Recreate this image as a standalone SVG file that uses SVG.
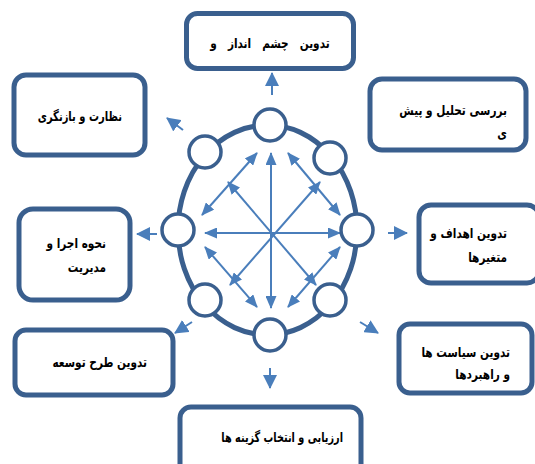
<svg xmlns="http://www.w3.org/2000/svg" width="535" height="464" viewBox="0 0 535 464">
<defs>
<style>
.box{fill:#fff;stroke:#3A5F8E;stroke-width:5}
.ring{fill:none;stroke:#3A5F8E;stroke-width:5}
.dot{fill:#fff;stroke:#3A5F8E;stroke-width:3.5}
.ln{stroke:#4A7EBB;stroke-width:2;fill:none}
.inner{marker-start:url(#ah);marker-end:url(#ah)}
.outer{marker-end:url(#oh)}
.t{font-family:"DejaVu Sans",sans-serif;font-weight:bold;font-size:13.5px;fill:#000;white-space:pre}
</style>
<marker id="ah" viewBox="0 0 13 11" refX="12" refY="5.5" markerWidth="13" markerHeight="11" markerUnits="userSpaceOnUse" orient="auto-start-reverse">
<path d="M0,0 L13,5.5 L0,11 z" fill="#4A7EBB"/>
</marker>
<marker id="oh" viewBox="0 0 14 14" refX="13" refY="7" markerWidth="14" markerHeight="14" markerUnits="userSpaceOnUse" orient="auto">
<path d="M0,0 L14,7 L0,14 z" fill="#4A7EBB"/>
</marker>
</defs>
<rect width="535" height="464" fill="#fff"/>

<g id="hub">
<ellipse class="ring" cx="267.5" cy="230" rx="89.5" ry="105"/>
</g>

<g id="connectors">
<line class="ln inner" x1="271" y1="153" x2="271" y2="308"/>
<line class="ln inner" x1="205" y1="233" x2="340" y2="233"/>
<line class="ln inner" x1="228" y1="182" x2="316" y2="285"/>
<line class="ln inner" x1="320" y1="182" x2="230" y2="285"/>
<line class="ln inner" x1="202" y1="215" x2="257" y2="153"/>
<line class="ln inner" x1="288" y1="153" x2="340" y2="215"/>
<line class="ln inner" x1="205" y1="247" x2="257" y2="307"/>
<line class="ln inner" x1="288" y1="307" x2="340" y2="247"/>
<line class="ln outer" x1="272" y1="95" x2="272" y2="73"/>
<line class="ln outer" x1="183" y1="130" x2="167" y2="118"/>
<line class="ln outer" x1="388" y1="233" x2="407" y2="233"/>
<line class="ln outer" x1="157" y1="234" x2="137" y2="234"/>
<line class="ln outer" x1="192" y1="322" x2="175" y2="333"/>
<line class="ln outer" x1="360" y1="322" x2="378" y2="333"/>
<line class="ln outer" x1="270" y1="368" x2="270" y2="388"/>
</g>

<g id="c-top"><circle class="dot" cx="270" cy="125" r="16"/></g>
<g id="c-topleft"><circle class="dot" cx="205" cy="152" r="16"/></g>
<g id="c-topright"><circle class="dot" cx="330" cy="158" r="16"/></g>
<g id="c-left"><circle class="dot" cx="178" cy="230" r="16"/></g>
<g id="c-right"><circle class="dot" cx="357" cy="230" r="16"/></g>
<g id="c-bottomleft"><circle class="dot" cx="205" cy="300" r="16"/></g>
<g id="c-bottomright"><circle class="dot" cx="330" cy="300" r="16"/></g>
<g id="c-bottom"><circle class="dot" cx="270" cy="335" r="16"/></g>

<g id="n-vision">
<rect class="box" x="186.5" y="13.5" width="167" height="55" rx="11"/>
<text class="t" transform="translate(270,48) scale(0.78,1)" text-anchor="middle">تدوین   چشم   انداز   و</text>
</g>
<g id="n-analysis">
<rect class="box" x="370" y="79" width="156" height="71" rx="12"/>
<text class="t" transform="translate(507,115) scale(0.78,1)" text-anchor="end">بررسی تحلیل و پیش</text>
<text class="t" transform="translate(507,138) scale(0.78,1)" text-anchor="end">ی</text>
</g>
<g id="n-monitor">
<rect class="box" x="14" y="75" width="131" height="80" rx="12"/>
<text class="t" transform="translate(122,121) scale(0.74,1)" text-anchor="end">نظارت و بازنگری</text>
</g>
<g id="n-implement">
<rect class="box" x="19" y="209" width="111" height="91" rx="14"/>
<text class="t" transform="translate(106,248) scale(0.78,1)" text-anchor="end">نحوه اجرا و</text>
<text class="t" transform="translate(106,272) scale(0.78,1)" text-anchor="end">مدیریت</text>
</g>
<g id="n-goals">
<rect class="box" x="419" y="205" width="120" height="78" rx="12"/>
<text class="t" transform="translate(507,238) scale(0.78,1)" text-anchor="end">تدوین اهداف و</text>
<text class="t" transform="translate(507,262) scale(0.78,1)" text-anchor="end">متغیرها</text>
</g>
<g id="n-plan">
<rect class="box" x="15" y="330" width="158" height="65" rx="11"/>
<text class="t" transform="translate(147,367) scale(0.78,1)" text-anchor="end">تدوین طرح توسعه</text>
</g>
<g id="n-policy">
<rect class="box" x="399" y="324" width="133" height="69" rx="11"/>
<text class="t" transform="translate(510,357) scale(0.78,1)" text-anchor="end">تدوین سیاست ها</text>
<text class="t" transform="translate(510,379) scale(0.78,1)" text-anchor="end">و راهبردها</text>
</g>
<g id="n-evaluate">
<rect class="box" x="180" y="407" width="181" height="70" rx="11"/>
<text class="t" transform="translate(343,442) scale(0.72,1)" text-anchor="end">ارزیابی و انتخاب گزینه ها</text>
</g>
</svg>
